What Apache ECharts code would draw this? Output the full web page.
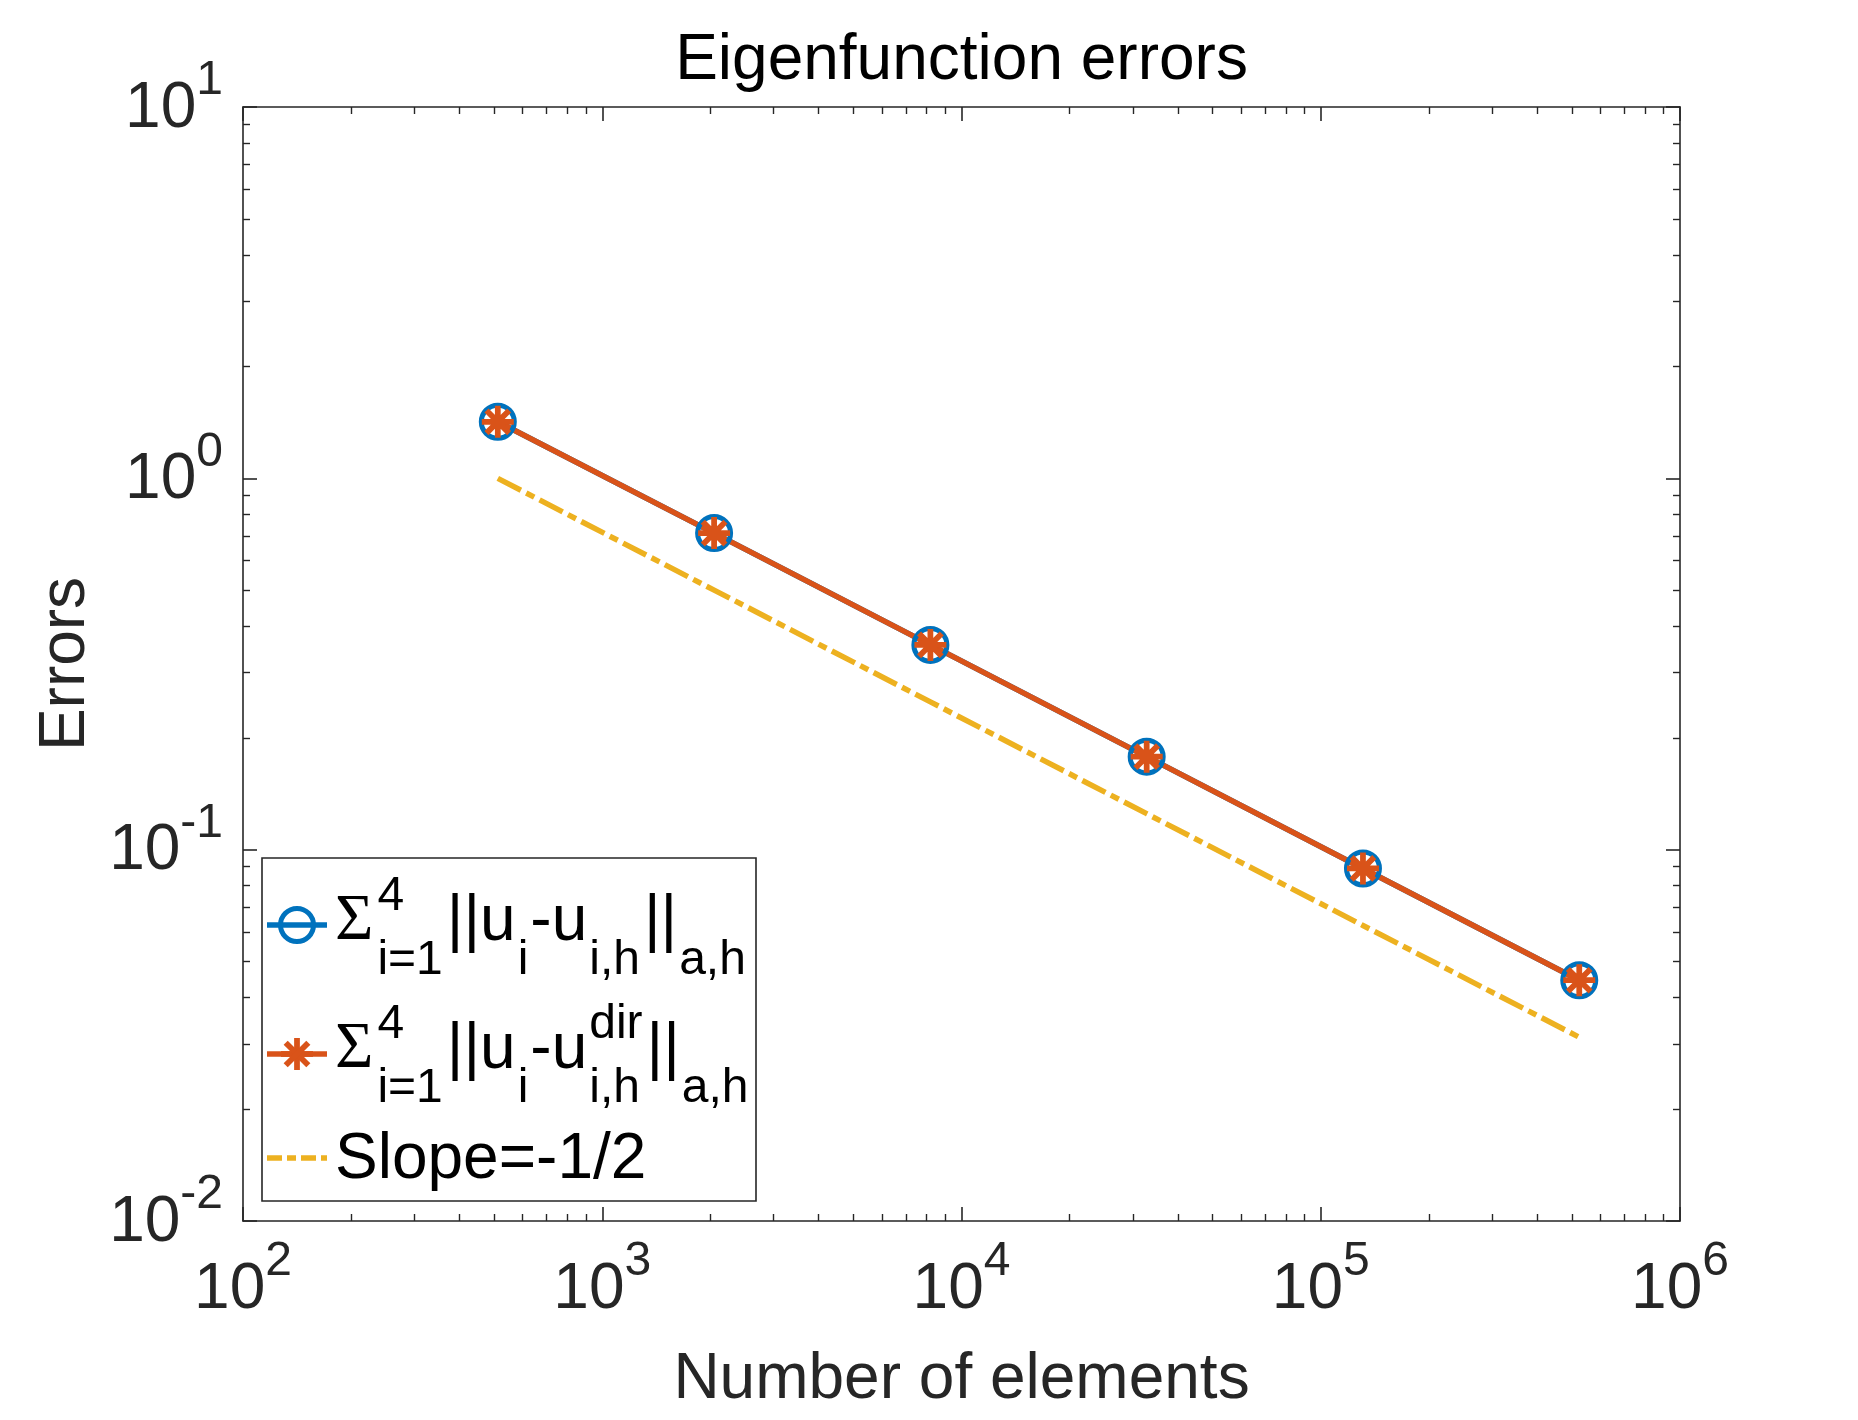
<!DOCTYPE html>
<html>
<head>
<meta charset="utf-8">
<script src="https://cdn.jsdelivr.net/npm/echarts@6/dist/echarts.min.js"></script>
<style>
  html, body { margin: 0; padding: 0; background: #fff; }
  #chart { width: 1858px; height: 1420px; }
</style>
</head>
<body>
<div id="chart"></div>
<script>
// data
const elements = [512, 2048, 8192, 32768, 131072, 524288];
const errDiscrete = [1.42, 0.712, 0.356, 0.178, 0.089, 0.0445];
const errDir = [1.42, 0.712, 0.356, 0.178, 0.089, 0.0445];
const slopeRef = [1.0, 0.5, 0.25, 0.125, 0.0625, 0.03125];

const xMajor = [1e2, 1e3, 1e4, 1e5, 1e6];
const yMajor = [1e-2, 1e-1, 1e0, 1e1];

// legend text, split in pieces: base text, sub, sup/sub stacks
const legendTokens = [
  [['sig', 'Σ'], ['stack', '4', 'i=1'], ['base', '||u'], ['sub', 'i'], ['base', '-u'], ['stack', '', 'i,h'], ['base', '||'], ['sub', 'a,h']],
  [['sig', 'Σ'], ['stack', '4', 'i=1'], ['base', '||u'], ['sub', 'i'], ['base', '-u'], ['stack', 'dir', 'i,h'], ['base', '||'], ['sub', 'a,h']],
  [['base', 'Slope=-1/2']]
];

const BLUE = '#0072BD', ORANGE = '#D95319', YELLOW = '#EDB120', AX = '#262626';
const FONT = 'Liberation Sans, Arial, sans-serif';
const SERIF = 'Liberation Serif, serif';
const SLOPE_DASH = [26, 6, 9, 6];
const LW = 5.5;

// minor ticks at 2..9 of each decade
function minorTicks(lo, hi) {
  const out = [];
  for (let k = lo; k < hi; k++) {
    for (let m = 2; m <= 9; m++) out.push(m * Math.pow(10, k));
  }
  return out;
}
const xMinor = minorTicks(2, 6);
const yMinor = minorTicks(-2, 1);

const pow10Label = (v) => {
  const e = Math.round(Math.log10(v));
  return '{b|10}{s|' + e + '}';
};
const powRich = {
  b: { fontSize: 64, lineHeight: 64, verticalAlign: 'bottom', fontFamily: FONT, color: AX },
  s: { fontSize: 48, lineHeight: 8, height: 8, verticalAlign: 'top', fontFamily: FONT, color: AX }
};

// asterisk marker (+ and x overlaid), bars in a 100x100 box
const asteriskBars = [
  [[0, 41], [100, 41], [100, 59], [0, 59]],
  [[41, 0], [59, 0], [59, 100], [41, 100]],
  [[20.99, 8.26], [91.74, 79.01], [79.01, 91.74], [8.26, 20.99]],
  [[79.01, 8.26], [91.74, 20.99], [20.99, 91.74], [8.26, 79.01]]
];
const ASTERISK = 'path://' + asteriskBars.map(b =>
  'M' + b.map(p => p[0] + ' ' + p[1]).join('L') + 'Z').join(' ');

const grid = { left: 243, top: 107, right: 178, bottom: 199 };

function logAxis(pos, min, max, extra) {
  return Object.assign({
    type: 'log', logBase: 10, min: min, max: max, position: pos,
    splitLine: { show: false },
    axisLine: { show: false },
    axisLabel: { show: false },
    axisTick: { show: false }
  }, extra);
}
const lineStyleAx = { show: true, lineStyle: { color: AX, width: 1.6 } };
const majorTick = (vals) => ({ show: true, inside: true, length: 14, customValues: vals, lineStyle: { color: AX, width: 1.6 } });
const minorTick = (vals) => ({ show: true, inside: true, length: 7, customValues: vals, lineStyle: { color: AX, width: 1.4 } });

const xAxes = [
  logAxis('bottom', 1e2, 1e6, {
    axisLine: lineStyleAx,
    axisTick: majorTick(xMajor),
    axisLabel: { show: true, customValues: xMajor, margin: 37, formatter: pow10Label, rich: powRich },
    name: 'Number of elements', nameLocation: 'middle', nameGap: 127,
    nameTextStyle: { fontSize: 64, fontFamily: FONT, color: AX }
  }),
  logAxis('top', 1e2, 1e6, { axisLine: lineStyleAx, axisTick: majorTick(xMajor) }),
  logAxis('bottom', 1e2, 1e6, { axisTick: minorTick(xMinor) }),
  logAxis('top', 1e2, 1e6, { axisTick: minorTick(xMinor) })
];
const yAxes = [
  logAxis('left', 1e-2, 1e1, {
    axisLine: lineStyleAx,
    axisTick: majorTick(yMajor),
    axisLabel: { show: true, customValues: yMajor, margin: 20, formatter: pow10Label, rich: powRich, padding: [4, 0, 0, 0] },
    name: 'Errors', nameLocation: 'middle', nameGap: 144,
    nameTextStyle: { fontSize: 64, fontFamily: FONT, color: AX }
  }),
  logAxis('right', 1e-2, 1e1, { axisLine: lineStyleAx, axisTick: majorTick(yMajor) }),
  logAxis('left', 1e-2, 1e1, { axisTick: minorTick(yMinor) }),
  logAxis('right', 1e-2, 1e1, { axisTick: minorTick(yMinor) })
];

const pairs = (ys) => elements.map((x, i) => [x, ys[i]]);

// ---- legend built from graphic text, positioned by measured widths ----
const measureCtx = document.createElement('canvas').getContext('2d');
function measure(txt, size, family) {
  measureCtx.font = size + 'px ' + family;
  return measureCtx.measureText(txt).width;
}
const BASE = 64, SUBSZ = 48, SHIFT = 32;
function textEl(txt, x, baseline, size, family) {
  return {
    type: 'text', x: x, y: baseline - 0.3465 * size,
    style: { text: txt, fontSize: size, fontFamily: family, fill: '#000', align: 'left', verticalAlign: 'middle' }
  };
}
function buildLabel(tokens, x0, baseY) {
  const els = [];
  let x = x0;
  tokens.forEach((tk) => {
    const kind = tk[0];
    if (kind === 'sig') {
      els.push(textEl(tk[1], x, baseY, 66, SERIF));
      x += measure(tk[1], 66, SERIF) + 4;
    } else if (kind === 'stack') {
      const w1 = tk[1] ? measure(tk[1], SUBSZ, FONT) : 0;
      const w2 = measure(tk[2], SUBSZ, FONT);
      if (tk[1]) els.push(textEl(tk[1], x, baseY - SHIFT, SUBSZ, FONT));
      els.push(textEl(tk[2], x, baseY + SHIFT, SUBSZ, FONT));
      x += Math.max(w1, w2) + 4;
    } else if (kind === 'sub') {
      els.push(textEl(tk[1], x, baseY + SHIFT, SUBSZ, FONT));
      x += measure(tk[1], SUBSZ, FONT) + 2;
    } else {
      els.push(textEl(tk[1], x, baseY, BASE, FONT));
      x += measure(tk[1], BASE, FONT) + 2;
    }
  });
  return els;
}

const legendBox = { x: 262, y: 858, w: 494, h: 343 };
const rowBase = [945, 1073, 1183];
const rowLine = [925, 1054, 1158];
const textX = 335, lineX0 = 267, lineX1 = 327, iconX = 297;

const legendEls = [
  { type: 'rect', shape: { x: legendBox.x, y: legendBox.y, width: legendBox.w, height: legendBox.h },
    style: { fill: '#fff', stroke: AX, lineWidth: 1.6 } },
  { type: 'line', shape: { x1: lineX0, y1: rowLine[0], x2: lineX1, y2: rowLine[0] }, style: { stroke: BLUE, lineWidth: LW } },
  { type: 'circle', shape: { cx: iconX, cy: rowLine[0], r: 16.5 }, style: { fill: 'none', stroke: BLUE, lineWidth: 5 } },
  { type: 'line', shape: { x1: lineX0, y1: rowLine[1], x2: lineX1, y2: rowLine[1] }, style: { stroke: ORANGE, lineWidth: LW } },
  { type: 'line', shape: { x1: lineX0, y1: rowLine[2], x2: lineX1, y2: rowLine[2] },
    style: { stroke: YELLOW, lineWidth: LW, lineDash: [15, 5, 9, 5] } }
];
asteriskBars.forEach(b => {
  legendEls.push({
    type: 'polygon',
    shape: { points: b.map(p => [iconX - 16 + p[0] * 0.32, rowLine[1] - 16 + p[1] * 0.32]) },
    style: { fill: ORANGE }
  });
});
legendTokens.forEach((tokens, i) => {
  buildLabel(tokens, textX, rowBase[i]).forEach(el => legendEls.push(el));
});

const chart = echarts.init(document.getElementById('chart'));
chart.setOption({
  animation: false,
  backgroundColor: '#fff',
  title: {
    text: 'Eigenfunction errors', left: 961.5, top: 29, textAlign: 'center', padding: 0,
    textStyle: { fontSize: 64, fontWeight: 'normal', fontFamily: FONT, color: '#000' }
  },
  grid: Object.assign({ outerBoundsMode: 'none' }, grid),
  xAxis: xAxes,
  yAxis: yAxes,
  series: [
    {
      name: 'discrete', type: 'line', xAxisIndex: 0, yAxisIndex: 0,
      data: pairs(errDiscrete),
      symbol: 'circle', symbolSize: 33,
      itemStyle: { color: 'rgba(0,0,0,0)', borderColor: BLUE, borderWidth: 5 },
      lineStyle: { color: BLUE, width: LW },
      silent: true
    },
    {
      name: 'dir', type: 'line', xAxisIndex: 0, yAxisIndex: 0,
      data: pairs(errDir),
      symbol: ASTERISK, symbolSize: 32,
      itemStyle: { color: ORANGE, borderWidth: 0 },
      lineStyle: { color: ORANGE, width: LW },
      silent: true
    },
    {
      name: 'Slope=-1/2', type: 'line', xAxisIndex: 0, yAxisIndex: 0,
      data: pairs(slopeRef),
      symbol: 'none',
      lineStyle: { color: YELLOW, width: LW, type: SLOPE_DASH, cap: 'butt' },
      silent: true
    }
  ],
  graphic: [{ type: 'group', z: 100, children: legendEls }]
});
</script>
</body>
</html>
